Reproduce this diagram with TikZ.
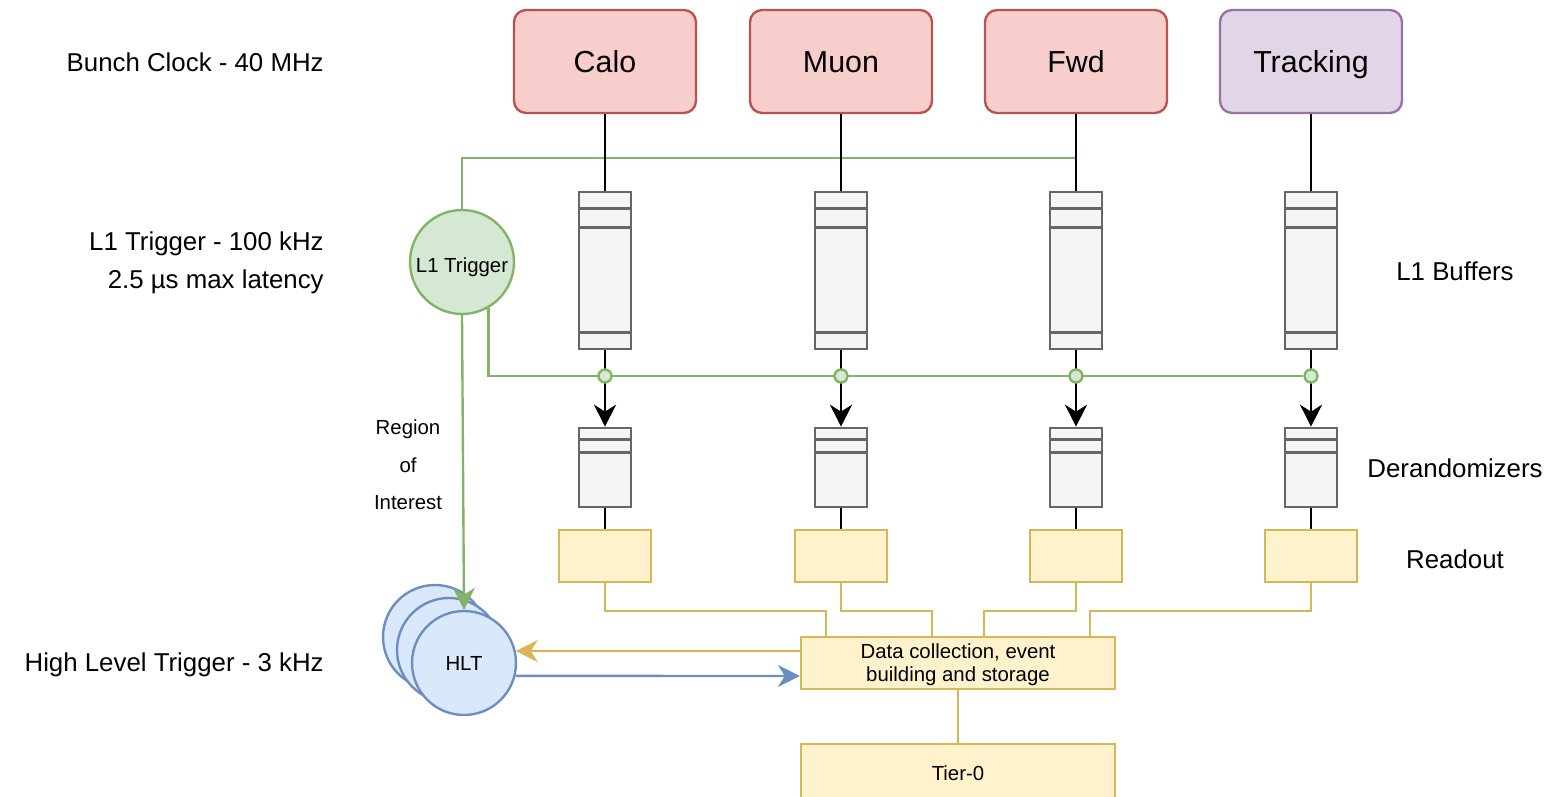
\documentclass[tikz,border=0pt]{standalone}
\usepackage{fontspec}
\setmainfont{Liberation Sans}
\usetikzlibrary{arrows.meta,calc}
\pgfdeclarelayer{bg}
\pgfsetlayers{bg,main}
\definecolor{srcfill}{HTML}{F8CECC}
\definecolor{srcline}{HTML}{B85450}
\definecolor{trkfill}{HTML}{E1D5E7}
\definecolor{trkline}{HTML}{9673A6}
\definecolor{l1fill}{HTML}{D5E8D4}
\definecolor{l1line}{HTML}{82B366}
\definecolor{hltfill}{HTML}{DAE8FC}
\definecolor{hltline}{HTML}{6C8EBF}
\definecolor{daqfill}{HTML}{FFF2CC}
\definecolor{daqline}{HTML}{D6B656}
\definecolor{buffill}{HTML}{F5F5F5}
\definecolor{bufline}{HTML}{666666}

\begin{document}
\begin{tikzpicture}[x=0.02cm,y=-0.02cm,
  every node/.style={inner sep=0pt},
  big/.style={font=\fontsize{17.3}{20}\selectfont},
  mid/.style={font=\fontsize{14.7}{21.5}\selectfont},
  sml/.style={font=\fontsize{11.6}{13}\selectfont},
  wire/.style={line width=1.35pt},
  tip/.style={-{Stealth[length=0.44cm,width=0.44cm,inset=0.14cm]}},
  srcbox/.style={draw=srcline, fill=srcfill, line width=1.35pt, rounded corners=0.24cm,
    minimum width=3.64cm, minimum height=2.06cm, big, text height=12.4pt, text depth=0pt},
  bufbox/.style={draw=bufline, fill=buffill, line width=1.5pt, minimum width=1.04cm, minimum height=3.14cm},
  derbox/.style={bufbox, minimum height=1.58cm},
  rdbox/.style={draw=daqline, fill=daqfill, line width=1.35pt, minimum width=1.84cm, minimum height=1.04cm},
  daqbox/.style={rdbox, minimum width=6.28cm, sml, align=center},
  junc/.style={circle, draw=l1line, fill=l1fill, line width=1.35pt, minimum size=0.26cm},
  trig/.style={circle, draw=l1line, fill=l1fill, line width=1.35pt, minimum size=2.08cm, sml,
    text height=12.4pt, text depth=0pt},
  hltc/.style={circle, draw=hltline, fill=hltfill, line width=1.35pt, minimum size=2.08cm, sml,
    text height=8.3pt, text depth=0pt},
]
\useasboundingbox (0,0) rectangle (1546,797);

% detector sources
\foreach \i/\x/\t in {1/605/Calo,2/841/Muon,3/1076/Fwd}
  \node[srcbox] (s\i) at (\x,61.5) {\t};
\node[srcbox, draw=trkline, fill=trkfill] (s4) at (1311,61.5) {Tracking};

% buffers, derandomizers, readout and trigger taps per column
\foreach \i/\x in {1/605,2/841,3/1076,4/1311}{
  \node[bufbox] (b\i) at (\x,270.5) {};
  \node[derbox] (d\i) at (\x,467.5) {};
  \node[rdbox] (r\i) at (\x,556) {};
  \node[junc] (j\i) at (\x,376) {};
  \draw[bufline, line width=1.5pt]
     ($(b\i.north west)+(0,18)$) -- ($(b\i.north east)+(0,18)$)
     ($(b\i.north west)+(0,36.5)$) -- ($(b\i.north east)+(0,36.5)$)
     ($(b\i.south west)+(0,-18)$) -- ($(b\i.south east)+(0,-18)$)
     ($(d\i.north west)+(0,13)$) -- ($(d\i.north east)+(0,13)$)
     ($(d\i.north west)+(0,26)$) -- ($(d\i.north east)+(0,26)$);
}

% L1 trigger
\node[trig] (l1) at (462,262) {L1 Trigger};
\coordinate (tap) at (1076,158);

% HLT farm
\node[hltc] (h1) at (435,637) {};
\node[hltc] (h2) at (449,650) {};
\node[hltc] (h3) at (464,663) {HLT};

% data acquisition
\node[daqbox, text depth=0pt] (dc) at (958,663) {Data collection, event\\building and storage};
\node[daqbox, minimum height=1.16cm, text height=8.3pt, text depth=0pt] (t0) at (958,773) {Tier-0};

% connectors
\begin{pgfonlayer}{bg}
\draw[wire, l1line] (tap) -| (l1.north);
\draw[wire, l1line] (l1.-60) |- (j4);
\foreach \i in {1,...,4}{
  \draw[wire] (s\i) -- (b\i);
  \draw[wire, tip] (b\i) -- (d\i);
  \draw[wire] (d\i) -- (r\i);
}
\draw[wire, daqline] (r1.south) -- ++(0,28) -| ($(dc.north west)+(26,0)$);
\draw[wire, daqline] (r2.south) -- ++(0,28) -| ($(dc.north)+(-26,0)$);
\draw[wire, daqline] (r3.south) -- ++(0,28) -| ($(dc.north)+(26,0)$);
\draw[wire, daqline] (r4.south) -- ++(0,28) -| ($(dc.north east)+(-26,0)$);
\draw[wire, daqline] (dc) -- (t0);
\end{pgfonlayer}
\draw[wire, l1line, tip] (l1.south) -- (h3.north);
\draw[wire, daqline, tip] ($(dc.west)+(0,-12)$) -- (h3.13.3);
\draw[wire, hltline, tip] (h3.-14.5) -- ($(dc.west)+(0,13)$);

% rate labels
\node[mid, anchor=base east] (lbc) at (324,71.3) {Bunch Clock - 40 MHz};
\node[mid, anchor=base east] (ll1a) at (324,250.3) {L1 Trigger - 100 kHz};
\node[mid, anchor=base east] (ll1b) at (324,288.3) {2.5 µs max latency};
\node[mid, anchor=base east] (lhlt) at (324,671.3) {High Level Trigger - 3 kHz};

% stage labels
\node[mid, anchor=base] (lbuf) at (1455,280.3) {L1 Buffers};
\node[mid, anchor=base] (lder) at (1455,477.3) {Derandomizers};
\node[mid, anchor=base] (lrd) at (1455,568.3) {Readout};

% region of interest
\node[sml, anchor=base] (roi1) at (408,434.5) {Region};
\node[sml, anchor=base] (roi2) at (408,472) {of};
\node[sml, anchor=base] (roi3) at (408,509.5) {Interest};
\end{tikzpicture}
\end{document}
